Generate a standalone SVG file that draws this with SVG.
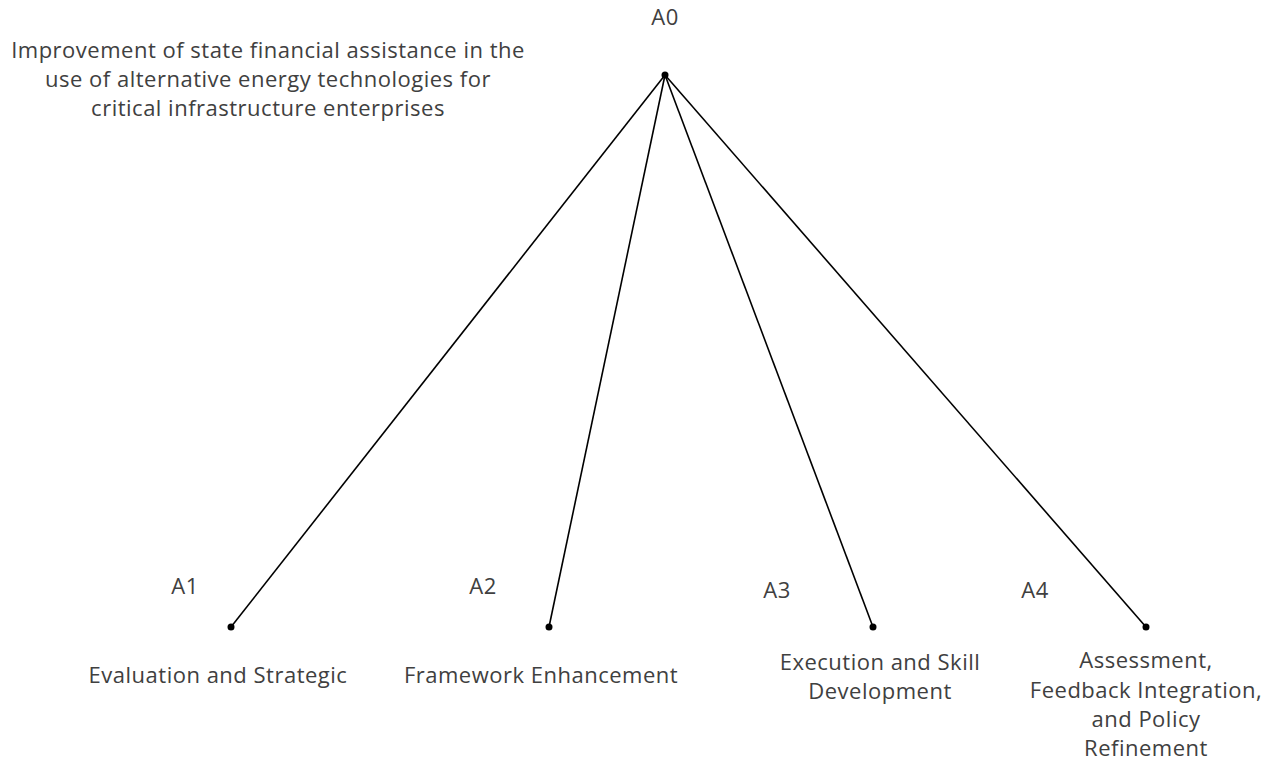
<svg xmlns="http://www.w3.org/2000/svg" width="1269" height="767" viewBox="0 0 1269 767">
<style>
text{font-family:"Open Sans","Noto Sans",sans-serif;font-size:22px;letter-spacing:0.5px;fill:#404040;text-anchor:middle}
.ln{stroke:#000;stroke-width:1.6;fill:none}
.dot{fill:#000}
</style>
<rect width="1269" height="767" fill="#fff"/>
<g id="connectors">
<line class="ln" x1="665" y1="75" x2="231" y2="627"/>
<line class="ln" x1="665" y1="75" x2="549" y2="627"/>
<line class="ln" x1="665" y1="75" x2="873" y2="627"/>
<line class="ln" x1="665" y1="75" x2="1146" y2="627"/>
</g>
<g id="A0">
<circle class="dot" cx="665" cy="75" r="3.5"/>
<text x="665" y="25">A0</text>
<text x="268" y="58">Improvement of state financial assistance in the</text>
<text x="268" y="87">use of alternative energy technologies for</text>
<text x="268" y="116">critical infrastructure enterprises</text>
</g>
<g id="A1">
<circle class="dot" cx="231" cy="627" r="3.5"/>
<text x="185" y="594">A1</text>
<text x="218" y="683">Evaluation and Strategic</text>
</g>
<g id="A2">
<circle class="dot" cx="549" cy="627" r="3.5"/>
<text x="483" y="594">A2</text>
<text x="541" y="683">Framework Enhancement</text>
</g>
<g id="A3">
<circle class="dot" cx="873" cy="627" r="3.5"/>
<text x="777" y="598">A3</text>
<text x="880" y="670">Execution and Skill</text>
<text x="880" y="699">Development</text>
</g>
<g id="A4">
<circle class="dot" cx="1146" cy="627" r="3.5"/>
<text x="1035" y="598">A4</text>
<text x="1146" y="668">Assessment,</text>
<text x="1146" y="698">Feedback Integration,</text>
<text x="1146" y="727">and Policy</text>
<text x="1146" y="756">Refinement</text>
</g>
</svg>
